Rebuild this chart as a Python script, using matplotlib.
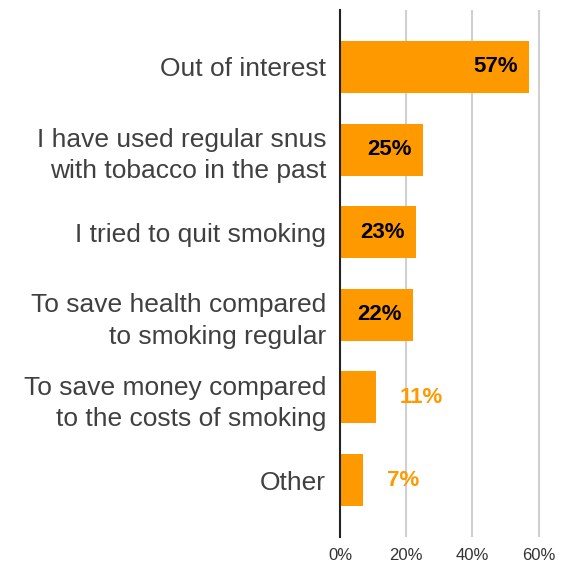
import matplotlib
matplotlib.use("Agg")
import matplotlib.pyplot as plt
from matplotlib.ticker import FuncFormatter

categories = [
    "Out of interest",
    "I have used regular snus\nwith tobacco in the past",
    "I tried to quit smoking",
    "To save health compared\nto smoking regular",
    "To save money compared\nto the costs of smoking",
    "Other",
]
values = [57, 25, 23, 22, 11, 7]
xticks = [0, 20, 40, 60]

ORANGE = "#FF9900"
TEXT = "#404040"

plt.rcParams["font.family"] = ["Liberation Sans", "DejaVu Sans"]

fig = plt.figure(figsize=(5.69, 5.64), dpi=100)
ax = fig.add_axes([340 / 569, 27 / 564, 230 / 569, 527 / 564])

ypos = list(range(len(categories)))
bars = ax.barh(ypos, values, height=0.63, color=ORANGE, zorder=3)

ax.set_xlim(0, 69.5)
ax.set_ylim(len(categories) - 0.31, -0.69)
ax.set_xticks(xticks)
ax.xaxis.set_major_formatter(FuncFormatter(lambda v, _: f"{v:.0f}%"))
ax.tick_params(axis="x", length=0, labelsize=12, labelcolor="#333333", pad=8)
ax.set_yticks(ypos)
ax.set_yticklabels(categories, fontsize=19, color=TEXT, linespacing=1.38)
ax.tick_params(axis="y", length=0, pad=10)

for x in xticks[1:]:
    ax.axvline(x, color="#d0d0d0", lw=1.5, zorder=1)

for s in ["top", "right", "bottom"]:
    ax.spines[s].set_visible(False)
ax.spines["left"].set_color("#222222")
ax.spines["left"].set_linewidth(1.5)
ax.spines["left"].set_zorder(4)

for bar, v in zip(bars, values):
    yc = bar.get_y() + bar.get_height() / 2
    if v >= 20:
        ax.annotate(f"{v}%", (v, yc), xytext=(-8, 0), textcoords="offset points",
                    ha="right", va="center", fontsize=16, fontweight="bold",
                    color="black", zorder=5)
    else:
        ax.annotate(f"{v}%", (v, yc), xytext=(17, 0), textcoords="offset points",
                    ha="left", va="center", fontsize=16, fontweight="bold",
                    color=ORANGE, zorder=5)

fig.savefig("out.png", dpi=100)
